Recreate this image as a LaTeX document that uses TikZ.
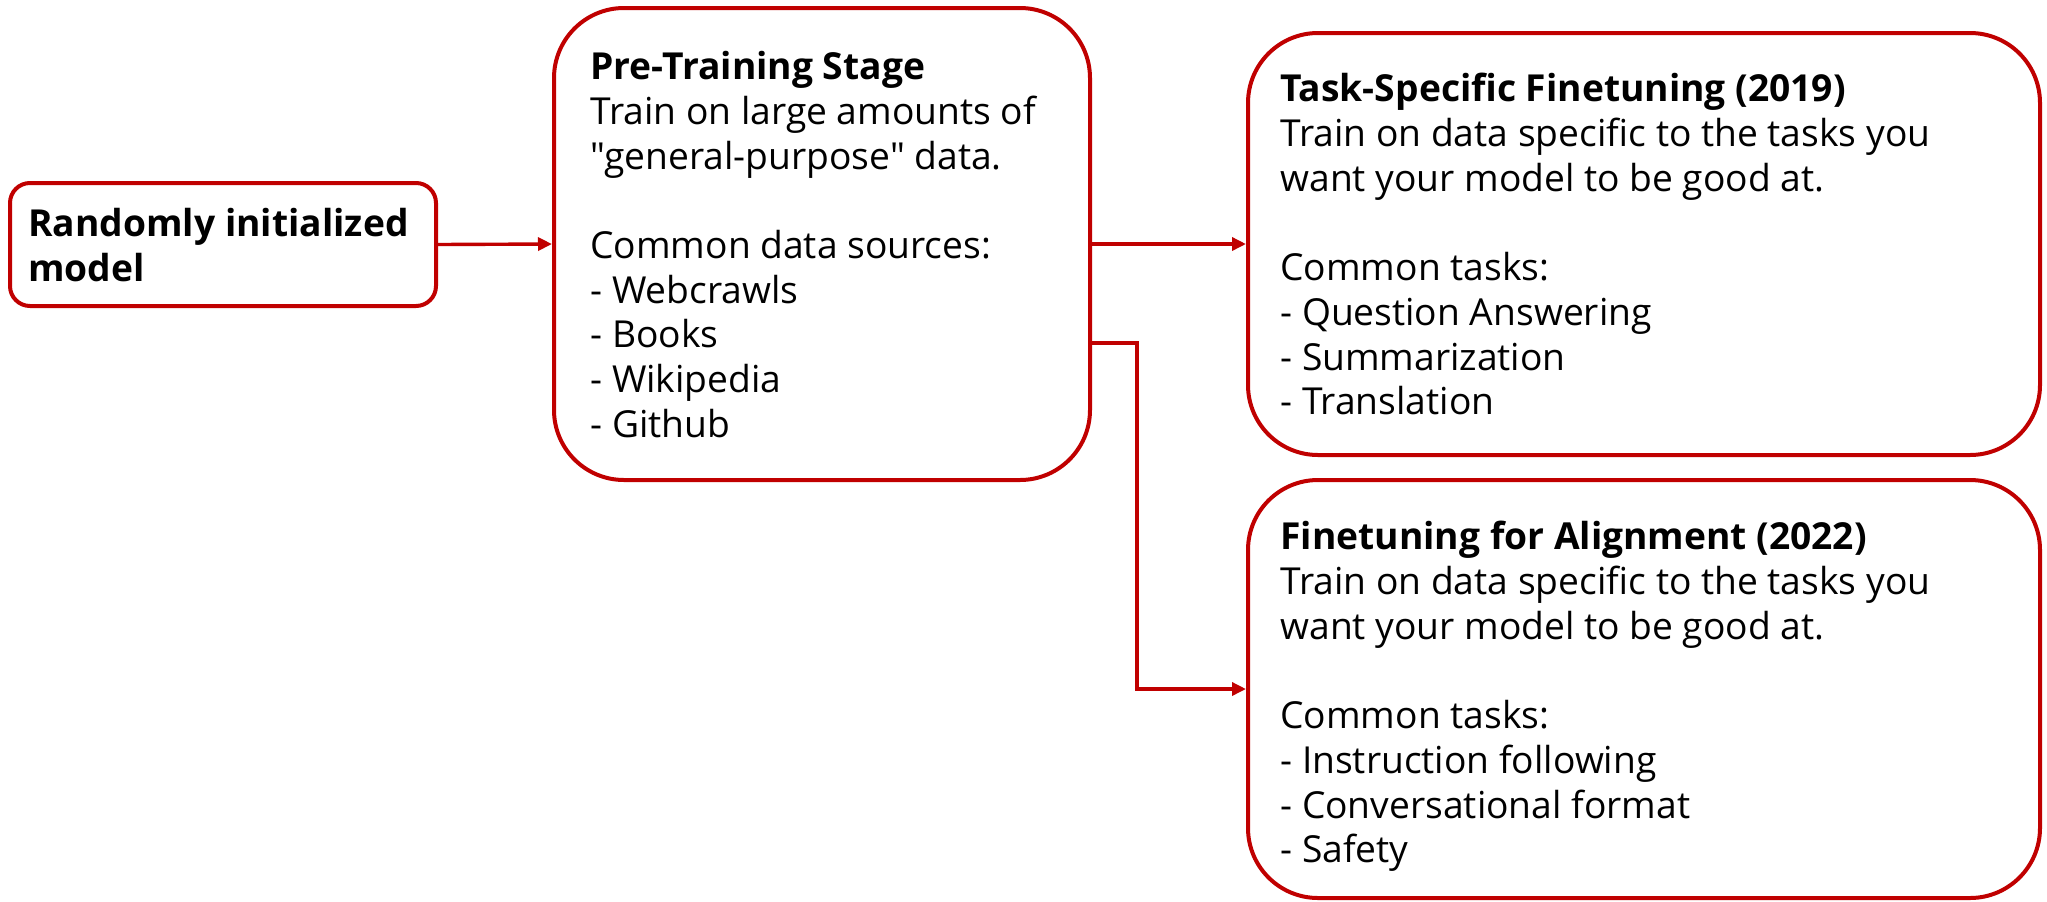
\documentclass[tikz,border=0pt]{standalone}
\usepackage{fontspec}
\setmainfont{Open Sans}[Ligatures=TeXOff]
\usetikzlibrary{arrows.meta}
\definecolor{boxred}{RGB}{192,0,0}
\tikzset{
  x=0.5pt, y=-0.5pt,
  stagebox/.style={draw=boxred, line width=2pt, rectangle, fill=white, inner sep=0pt},
  bigbox/.style={stagebox, rounded corners=35pt},
  smallbox/.style={stagebox, rounded corners=10pt},
  boxtext/.style={anchor=north west, inner sep=0pt, align=left,
    font=\fontsize{18.6pt}{22.35pt}\selectfont},
  link/.style={draw=boxred, line width=1.7pt, -{Triangle[length=7pt,width=6.5pt]}},
}
\begin{document}
\begin{tikzpicture}
\useasboundingbox (0,0) rectangle (2047,901);
% stage boxes
\node[smallbox, minimum width=213pt, minimum height=61.5pt] (init) at (223,244.5) {};
\node[bigbox, minimum width=268pt, minimum height=236pt] (pre) at (822,244) {};
\node[bigbox, minimum width=396pt, minimum height=211pt] (task) at (1644,244) {};
\node[bigbox, minimum width=396pt, minimum height=209pt] (align) at (1644,689) {};
% texts
\node[boxtext] (initT) at (28,208) {\textbf{Randomly initialized}\\\textbf{model}};
\node[boxtext] (preT) at (590,51) {\textbf{Pre-Training Stage}\\Train on large amounts of\\"general-purpose" data.\\[22.35pt]Common data sources:\\- Webcrawls\\- Books\\- Wikipedia\\- Github};
\node[boxtext] (taskT) at (1280,73) {\textbf{Task-Specific Finetuning (2019)}\\Train on data specific to the tasks you\\want your model to be good at.\\[22.35pt]Common tasks:\\- Question Answering\\- Summarization\\- Translation};
\node[boxtext] (alignT) at (1280,521) {\textbf{Finetuning for Alignment (2022)}\\Train on data specific to the tasks you\\want your model to be good at.\\[22.35pt]Common tasks:\\- Instruction following\\- Conversational format\\- Safety};
% connectors
\coordinate (split) at (1137,343);
\draw[link] (init.east) -- (pre.west);
\draw[link] (pre.east) -- (task.west);
\draw[link] (pre.east |- split) -- (split) |- (align.west);
\end{tikzpicture}
\end{document}
